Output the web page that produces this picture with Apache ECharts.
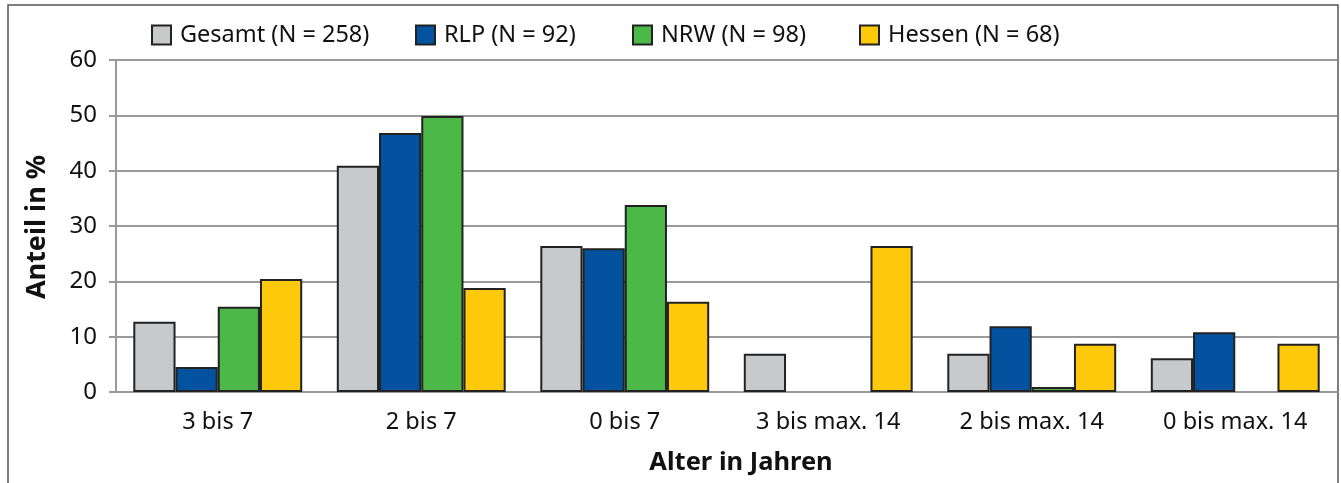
<!DOCTYPE html>
<html><head><meta charset="utf-8">
<script src="https://cdn.jsdelivr.net/npm/echarts@6/dist/echarts.min.js"></script>
<style>html,body{margin:0;padding:0;background:#fff}#c{width:1341px;height:483px}</style>
</head><body><div id="c"></div>
<script>
const categories = ['3 bis 7','2 bis 7','0 bis 7','3 bis max. 14','2 bis max. 14','0 bis max. 14'];
const seriesNames = ['Gesamt (N = 258)','RLP (N = 92)','NRW (N = 98)','Hessen (N = 68)'];
const gesamt = [12.7, 40.9, 26.4, 6.9, 6.9, 6.1];
const rlp = [4.5, 46.8, 26.0, 0, 11.9, 10.8];
const nrw = [15.4, 49.9, 33.8, 0, 0.9, 0];
const hessen = [20.4, 18.8, 16.3, 26.4, 8.7, 8.7];
const yTicks = [0,10,20,30,40,50,60];

const colors = ['#c8c9cb','#03529f','#4cb848','#fec90b'];
const legendLeft = [151, 415, 632, 859];
const font = 'Noto Sans';
const chart = echarts.init(document.getElementById('c'));
const values = [gesamt, rlp, nrw, hessen];
chart.setOption({
  animation:false,
  textStyle:{fontFamily:font},
  grid:{left:116,right:4,top:60,bottom:91,containLabel:false},
  legend:seriesNames.map((n,i)=>({top:23,left:legendLeft[i],padding:0,itemWidth:19,itemHeight:19,
    textStyle:{fontFamily:font,fontSize:23.5,color:'#111',padding:[0,0,0,4]},
    data:[{name:n,icon:'rect',itemStyle:{borderWidth:2}}]})),
  xAxis:{type:'category',data:categories,
    axisLine:{lineStyle:{color:'#9a9a9a',width:2}},axisTick:{show:false},
    axisLabel:{fontFamily:font,fontSize:23.5,color:'#111',margin:18}},
  yAxis:{type:'value',min:0,max:60,interval:10,
    axisLine:{show:true,lineStyle:{color:'#9a9a9a',width:2}},
    axisTick:{show:true,length:7,lineStyle:{color:'#9a9a9a',width:2}},
    splitLine:{lineStyle:{color:'#9a9a9a',width:2}},
    axisLabel:{fontFamily:font,fontSize:24,color:'#111',margin:19,
      formatter:v=>yTicks.includes(v)?String(v):''}},
  series:seriesNames.map((n,i)=>({name:n,type:'bar',
    data:values[i].map(v=>v===0?{value:v,itemStyle:{borderWidth:0}}:v),
    barGap:'0%',barCategoryGap:'17%',
    itemStyle:{color:colors[i],borderColor:'#222',borderWidth:2}})),
  graphic:[
    {type:'rect',shape:{x:8,y:5,width:1330,height:500},style:{fill:'none',stroke:'#555',lineWidth:1.5},silent:true},
    {type:'text',x:37,y:227,rotation:Math.PI/2,style:{text:'Anteil in %',font:'bold 27px '+font,fill:'#111',textAlign:'center',textVerticalAlign:'middle'}},
    {type:'text',x:741,y:463,style:{text:'Alter in Jahren',font:'bold 25.5px '+font,fill:'#111',textAlign:'center',textVerticalAlign:'middle'}}
  ]
});
</script></body></html>
